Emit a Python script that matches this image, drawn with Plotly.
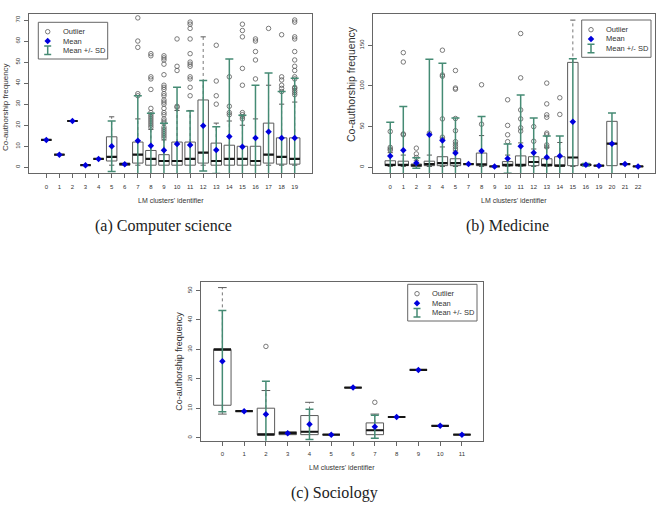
import plotly.graph_objects as go

# ---------------- (a) Computer science ----------------
cs_ids = [str(i) for i in range(20)]
cs_q1 = [13, 6, 22, 1, 4, 3, 1, 2, 1, 1, 1, 1, 2, 1, 1, 1, 1, 2, 1.5, 1.5]
cs_median = [13, 6, 22, 1, 4, 5, 1.5, 6, 4, 3, 3, 4, 7, 3, 4, 4, 3, 6, 5, 4]
cs_q3 = [13, 6, 22, 1, 4, 14.5, 2, 12, 8, 6, 12, 12, 32, 11.5, 10.5, 10, 10, 21, 14, 14]
cs_low = [13, 6, 22, 1, 4, 1, 1, 1, 1, 1, 1, 1, 1, 1, 1, 1, 1, 1, 1, 1]
cs_high = [13, 6, 22, 1, 4, 24, 2, 23, 18, 13, 27, 27, 62, 21, 22, 20, 23, 39, 30, 31]
cs_mean = [13, 6, 22, 1, 4, 10, 1.5, 12.6, 10.3, 8.1, 11.1, 10.6, 19.8, 8.2, 14.6, 9.8, 13.9, 16.9, 13.9, 13.9]
cs_sd = [0, 0, 0, 0, 0, 12, 0, 21.4, 15.4, 12.8, 26.9, 16.2, 21.5, 11.1, 36.9, 14.9, 25.1, 27.9, 22.1, 28.4]
cs_outliers = [
    [], [], [], [], [], [], [],
    [71, 60, 57, 35, 34],
    [54, 53, 43, 42, 37, 28, 26, 25, 24, 23, 22, 21, 20, 19],
    [53, 52, 51, 49, 44, 39, 38, 37, 35, 34, 32, 31, 30, 28, 26, 25, 23, 22, 21, 19, 18, 17, 16, 15, 14],
    [61, 48, 46, 29, 28.5],
    [69, 68, 66, 61, 54, 50, 49, 48, 43, 42, 38, 34],
    [],
    [58, 41, 34, 30],
    [43, 29, 26, 25],
    [68, 65, 62, 47, 39, 26, 25, 24, 23],
    [61, 60, 55, 51, 42],
    [66],
    [63, 43, 41.5, 39, 37.5, 36],
    [70, 69, 62, 61, 55, 51, 48, 46, 43, 42, 38, 37.5, 36.5, 35.5, 34.5],
]
cs_yticks = [0, 10, 20, 30, 40, 50, 60, 70]

# ---------------- (b) Medicine ----------------
med_ids = ['0', '1', '2', '3', '4', '5', '7', '8', '9', '10', '11', '12', '13', '14', '15', '16', '19', '20', '21', '22']
med_q1 = [2, 2, 1, 2, 2, 2, 4, 2, 1, 1.5, 1.5, 2, 1.5, 1.5, 2, 2, 2, 2, 4, 1]
med_median = [3, 3, 2.5, 4, 5, 5, 4, 3.5, 1, 3, 3, 6.5, 3, 2, 12, 3, 2, 29, 4, 1]
med_q3 = [8, 7.5, 4, 7.5, 13, 10.5, 4, 17.5, 1, 7, 14, 13, 10.5, 13, 129, 4, 2, 56.5, 4, 1]
med_low = [1, 1, 1, 1, 1, 1, 4, 1, 1, 1, 1, 1, 1, 1, 1, 2, 2, 2, 4, 1]
med_high = [18, 15, 8, 15, 25, 20, 4, 39, 1, 15, 30, 22.5, 24, 30.5, 181, 4, 2, 56.5, 4, 1]
med_mean = [14, 21, 5.3, 40, 33, 17.6, 4, 20, 1, 10.7, 26, 18, 12.3, 14, 56, 3, 2, 29, 4, 1]
med_sd = [41.3, 53.6, 6.5, 92.8, 95, 43, 0, 42.3, 0, 18, 62.9, 42.6, 26.2, 24.5, 77.6, 1.5, 0, 37.7, 0, 0]
med_outliers = [
    [44, 24.5, 22.5, 21],
    [141, 129.5, 41, 40],
    [23.5, 16.5, 12],
    [42],
    [144, 113.5, 112, 59.5, 37, 34.5],
    [119, 97.5, 96, 60, 45, 31.5, 28.5, 25.5, 22.5],
    [],
    [101.5, 53],
    [],
    [83, 51.5, 40, 31.5],
    [164.5, 110, 70.5, 59.5, 48.5, 44.5],
    [50, 32],
    [103.5, 78, 64.5, 61.5, 42, 40, 27.5, 25],
    [85.5, 65],
    [], [], [], [], [], [],
]
med_yticks = [0, 50, 100, 150]

# ---------------- (c) Sociology ----------------
soc_ids = [str(i) for i in range(12)]
soc_q1 = [11, 9, 1, 1, 1, 1, 17, 1, 7, 23, 4, 1]
soc_median = [30, 9, 1, 1.5, 2, 1, 17, 2.5, 7, 23, 4, 1]
soc_q3 = [30, 9, 10, 2, 7.5, 1, 17, 5, 7, 23, 4, 1]
soc_low = [8, 9, 1, 1, 1, 1, 17, 1, 7, 23, 4, 1]
soc_high = [51, 9, 16, 2, 12, 1, 17, 8, 7, 23, 4, 1]
soc_mean = [26, 9, 7.9, 1.5, 4.5, 1, 17, 3.7, 7, 23, 4, 1]
soc_sd = [17.2, 0, 11.3, 0, 5.1, 0, 0, 3.9, 0, 0, 0, 0]
soc_outliers = [[], [], [31], [], [], [], [], [12], [], [], [], []]
soc_yticks = [0, 10, 20, 30, 40, 50]

legend_labels = ["Outlier", "Mean", "Mean +/- SD"]
x_title = "LM clusters' identifier"
y_title = "Co-authorship frequency"
captions = ["(a) Computer science", "(b) Medicine", "(c) Sociology"]

# ---------------- styling / layout geometry ----------------
W, H = 661, 513
SANS = "Liberation Sans, Arial, sans-serif"
SERIF = "Liberation Serif, Times New Roman, serif"
TEAL = "#458B74"
BLUE = "#0000DD"
GREY = "#5a5a5a"
FRAME = "#666666"
TXT = "#333333"
MEAN_SIZE = 5
LINE_EW_K = 1.41  # plotly draws line-ew about 1.41x its nominal size


def fx(v):
    return v / W


def fy(v):
    return 1 - v / H


panels = [
    dict(ids=cs_ids, q1=cs_q1, med=cs_median, q3=cs_q3, lo=cs_low, hi=cs_high,
         mean=cs_mean, sd=cs_sd, out=cs_outliers, yticks=cs_yticks,
         px=(29.3, 311.7), py=(14, 173.3), yrange=[-2.85, 72.85], xpad=1.3,
         ytitle=dict(x=6, y=107, size=8), ytick_std=2,
         xtitle=dict(x=170.5, y=200.7, size=7), cap=dict(x=163, y=226),
         leg=dict(box=(38.3, 22.3, 107.7, 59), sx=47.7, tx=60.5, rows=(31.7, 41, 50.3))),
    dict(ids=med_ids, q1=med_q1, med=med_median, q3=med_q3, lo=med_low, hi=med_high,
         mean=med_mean, sd=med_sd, out=med_outliers, yticks=med_yticks,
         px=(373.3, 655), py=(14, 173.3), yrange=[-7.4, 188.5], xpad=1.3,
         ytitle=dict(x=351, y=84, size=10.5), ytick_std=2,
         xtitle=dict(x=514, y=200.7, size=7), cap=dict(x=507, y=226),
         leg=dict(box=(581.7, 20, 651, 57.3), sx=591, tx=604, rows=(29.7, 39, 48.5))),
    dict(ids=soc_ids, q1=soc_q1, med=soc_median, q3=soc_q3, lo=soc_low, hi=soc_high,
         mean=soc_mean, sd=soc_sd, out=soc_outliers, yticks=soc_yticks,
         px=(201, 483.3), py=(281.7, 440.7), yrange=[-1.05, 53], xpad=0.98,
         ytitle=dict(x=178.3, y=361.5, size=9), ytick_std=2,
         xtitle=dict(x=342.5, y=467.7, size=7), cap=dict(x=335, y=492.7),
         leg=dict(box=(407.7, 284.3, 477, 321), sx=417, tx=430, rows=(293.7, 303.3, 312.7))),
]

fig = go.Figure()
layout = dict(width=W, height=H, margin=dict(l=0, r=0, t=0, b=0),
              paper_bgcolor="white", plot_bgcolor="rgba(0,0,0,0)", showlegend=False)
annotations = []
shapes = []

for k, p in enumerate(panels):
    sfx = "" if k == 0 else str(k + 1)
    xa, ya = "x" + sfx, "y" + sfx
    ids = p["ids"]
    n = len(ids)
    xr = [-p["xpad"], n - 1 + p["xpad"]]
    span_px = p["px"][1] - p["px"][0]
    box_px = 0.8 * span_px / (xr[1] - xr[0])

    # boxes
    fig.add_trace(go.Box(x=ids, q1=p["q1"], median=p["med"], q3=p["q3"],
                         lowerfence=p["q1"], upperfence=p["q3"], width=0.8,
                         boxpoints=False, whiskerwidth=0,
                         line=dict(color=GREY, width=1), fillcolor="rgba(0,0,0,0)",
                         xaxis=xa, yaxis=ya, hoverinfo="skip"))
    # dashed whiskers + staples
    wx, wy, sx_, sy_ = [], [], [], []
    for c, q1, q3, lo, hi in zip(ids, p["q1"], p["q3"], p["lo"], p["hi"]):
        if hi > q3:
            wx += [c, c, None]
            wy += [q3, hi, None]
            sx_.append(c)
            sy_.append(hi)
        if lo < q1:
            wx += [c, c, None]
            wy += [q1, lo, None]
            sx_.append(c)
            sy_.append(lo)
    fig.add_trace(go.Scatter(x=wx, y=wy, mode="lines",
                             line=dict(color="#777777", width=1, dash="dot"),
                             xaxis=xa, yaxis=ya, hoverinfo="skip"))
    fig.add_trace(go.Scatter(x=sx_, y=sy_, mode="markers",
                             marker=dict(symbol="line-ew", size=box_px / 2 / LINE_EW_K,
                                         color=GREY, line=dict(color=GREY, width=1)),
                             xaxis=xa, yaxis=ya, hoverinfo="skip"))
    # outliers
    ox, oy = [], []
    for c, vals in zip(ids, p["out"]):
        for v in vals:
            ox.append(c)
            oy.append(v)
    fig.add_trace(go.Scatter(x=ox, y=oy, mode="markers",
                             marker=dict(symbol="circle-open", size=4.5, color=GREY,
                                         line=dict(color=GREY, width=0.8)),
                             xaxis=xa, yaxis=ya, hoverinfo="skip"))
    # medians (thick)
    fig.add_trace(go.Scatter(x=ids, y=p["med"], mode="markers",
                             marker=dict(symbol="line-ew", size=box_px / LINE_EW_K, color="#151515",
                                         line=dict(color="#151515", width=2.2)),
                             xaxis=xa, yaxis=ya, hoverinfo="skip"))
    # mean +/- SD
    ex = [c for c, s in zip(ids, p["sd"]) if s > 0]
    ey = [m for m, s in zip(p["mean"], p["sd"]) if s > 0]
    es = [s for s in p["sd"] if s > 0]
    fig.add_trace(go.Scatter(x=ex, y=ey, mode="markers",
                             marker=dict(size=1, color="rgba(0,0,0,0)"),
                             error_y=dict(type="data", array=es, color=TEAL,
                                          thickness=1.5, width=4),
                             xaxis=xa, yaxis=ya, hoverinfo="skip"))
    # means
    fig.add_trace(go.Scatter(x=ids, y=p["mean"], mode="markers",
                             marker=dict(symbol="diamond", size=MEAN_SIZE, color=BLUE),
                             xaxis=xa, yaxis=ya, hoverinfo="skip"))

    layout["xaxis" + sfx] = dict(
        domain=[fx(p["px"][0]), fx(p["px"][1])], anchor=ya, type="category",
        categoryorder="array", categoryarray=ids, tickmode="array", tickvals=ids,
        range=xr, showline=True, mirror=True, linecolor=FRAME, linewidth=1,
        ticks="outside", ticklen=4, tickcolor=FRAME, showgrid=False, zeroline=False,
        tickfont=dict(family=SANS, size=6, color=TXT), ticklabelstandoff=3,
        fixedrange=True)
    layout["yaxis" + sfx] = dict(
        domain=[fy(p["py"][1]), fy(p["py"][0])], anchor=xa, range=p["yrange"],
        tickmode="array", tickvals=p["yticks"], tickangle=-90,
        showline=True, mirror=True, linecolor=FRAME, linewidth=1,
        ticks="outside", ticklen=4, tickcolor=FRAME, showgrid=False, zeroline=False,
        tickfont=dict(family=SANS, size=6, color=TXT), ticklabelstandoff=p["ytick_std"],
        fixedrange=True)

    # titles and caption
    annotations.append(dict(x=fx(p["ytitle"]["x"]), y=fy(p["ytitle"]["y"]), xref="paper", yref="paper",
                            text=y_title, textangle=-90, showarrow=False,
                            xanchor="center", yanchor="middle",
                            font=dict(family=SANS, size=p["ytitle"]["size"], color=TXT)))
    annotations.append(dict(x=fx(p["xtitle"]["x"]), y=fy(p["xtitle"]["y"]), xref="paper", yref="paper",
                            text=x_title, showarrow=False, xanchor="center", yanchor="middle",
                            font=dict(family=SANS, size=p["xtitle"]["size"], color=TXT)))
    annotations.append(dict(x=fx(p["cap"]["x"]), y=fy(p["cap"]["y"]), xref="paper", yref="paper",
                            text=captions[k], showarrow=False, xanchor="center", yanchor="middle",
                            font=dict(family=SERIF, size=16, color="#222222")))

    # legend box
    lg = p["leg"]
    shapes.append(dict(type="rect", xref="paper", yref="paper",
                       x0=fx(lg["box"][0]), x1=fx(lg["box"][2]),
                       y0=fy(lg["box"][3]), y1=fy(lg["box"][1]),
                       line=dict(color=FRAME, width=1), fillcolor="rgba(0,0,0,0)", layer="above"))
    for lab, ry in zip(legend_labels, lg["rows"]):
        annotations.append(dict(x=fx(lg["tx"]), y=fy(ry), xref="paper", yref="paper",
                                text=lab, showarrow=False, xanchor="left", yanchor="middle",
                                font=dict(family=SANS, size=7.5, color=TXT)))
    # legend glyphs on a pixel overlay axis
    sx0 = lg["sx"]
    r0, r1, r2 = lg["rows"]
    fig.add_trace(go.Scatter(x=[sx0], y=[r0], mode="markers",
                             marker=dict(symbol="circle-open", size=4.5, color=GREY,
                                         line=dict(color=GREY, width=0.8)),
                             xaxis="x4", yaxis="y4", hoverinfo="skip"))
    fig.add_trace(go.Scatter(x=[sx0], y=[r2], mode="markers",
                             marker=dict(size=1, color="rgba(0,0,0,0)"),
                             error_y=dict(type="data", array=[4.3], color=TEAL, thickness=1.5, width=3.5),
                             xaxis="x4", yaxis="y4", hoverinfo="skip"))
    fig.add_trace(go.Scatter(x=[sx0], y=[r1], mode="markers",
                             marker=dict(symbol="diamond", size=MEAN_SIZE, color=BLUE),
                             xaxis="x4", yaxis="y4", hoverinfo="skip"))

layout["xaxis4"] = dict(domain=[0, 1], range=[0, W], visible=False, anchor="y4", fixedrange=True)
layout["yaxis4"] = dict(domain=[0, 1], range=[H, 0], visible=False, anchor="x4", fixedrange=True)
layout["annotations"] = annotations
layout["shapes"] = shapes
fig.update_layout(**layout)
fig.write_html("out.html")
